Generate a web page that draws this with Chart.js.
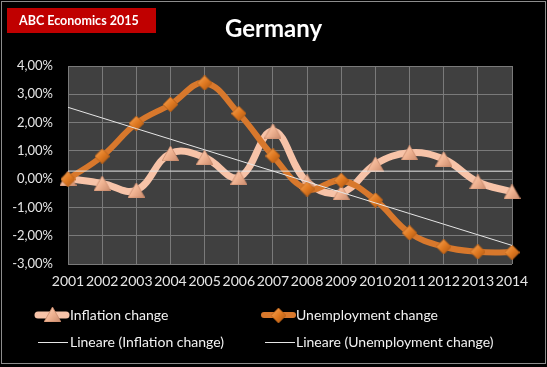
<!DOCTYPE html>
<html>
<head>
<meta charset="utf-8">
<script src="https://cdn.jsdelivr.net/npm/chart.js@4.4.0/dist/chart.umd.min.js"></script>
<style>
  body { margin: 0; background: #000; }
  #wrap { position: relative; width: 547px; height: 367px; background: #000; font-family: Lato, "Open Sans", sans-serif; overflow: hidden; }
  #chart { position: absolute; left: 0; top: 0; }
  #frame { position: absolute; left: 1px; top: 1px; width: 543px; height: 361px; border: 1px solid #8c8c8c; pointer-events: none; }
  #badge { position: absolute; left: 7px; top: 8px; width: 149px; height: 25px; background: #c00000; color: #fff; font-weight: bold; font-size: 12.5px; line-height: 25px; padding-left: 12px; box-sizing: border-box; }
  #title { position: absolute; left: 0; top: 13px; width: 547px; text-align: center; color: #fff; font-weight: bold; font-size: 24px; line-height: 30px; }
  .lg { position: absolute; color: #f2f2f2; font-size: 14px; line-height: 16px; white-space: nowrap; }
</style>
</head>
<body>
<div id="wrap">
  <canvas id="chart" width="547" height="367"></canvas>
  <div id="frame"></div>
  <div id="badge">ABC Economics 2015</div>
  <div id="title">Germany</div>
  <div class="lg" style="left:70px;top:307px">Inflation change</div>
  <div class="lg" style="left:296px;top:307px">Unemployment change</div>
  <div class="lg" style="left:70px;top:334px">Lineare (Inflation change)</div>
  <div class="lg" style="left:296px;top:334px">Lineare (Unemployment change)</div>
</div>
<script>
// values in percent
const years = ['2001', '2002', '2003', '2004', '2005', '2006', '2007', '2008', '2009', '2010', '2011', '2012', '2013', '2014'];
const inflation = [0.02, -0.15, -0.39, 0.91, 0.77, 0.06, 1.70, -0.10, -0.48, 0.53, 0.93, 0.71, -0.10, -0.45];
const unemployment = [0.00, 0.81, 1.97, 2.64, 3.40, 2.32, 0.82, -0.35, -0.05, -0.74, -1.90, -2.39, -2.57, -2.59];
const yTicks = [4, 3, 2, 1, 0, -1, -2, -3];

// least squares trend, like Excel's "Lineare" trendline
function linearFit(values) {
  const n = values.length;
  const mx = (n - 1) / 2;
  const my = values.reduce((a, b) => a + b, 0) / n;
  let sxy = 0, sxx = 0;
  values.forEach((v, i) => { sxy += (i - mx) * (v - my); sxx += (i - mx) * (i - mx); });
  const slope = sxy / sxx;
  return values.map((v, i) => my + slope * (i - mx));
}

function makeDiamond(size) {
  const c = document.createElement('canvas');
  c.width = size; c.height = size;
  const g = c.getContext('2d');
  const h = size / 2;
  const grad = g.createLinearGradient(0, 0, size, size);
  grad.addColorStop(0, '#f8a85a');
  grad.addColorStop(0.5, '#e07a22');
  grad.addColorStop(1, '#a9520f');
  g.beginPath();
  g.moveTo(h, 0); g.lineTo(size, h); g.lineTo(h, size); g.lineTo(0, h); g.closePath();
  g.fillStyle = grad; g.fill();
  g.strokeStyle = '#b35d16'; g.lineWidth = 0.8; g.stroke();
  return c;
}

function makeTriangle(w, hgt) {
  const c = document.createElement('canvas');
  c.width = w; c.height = hgt;
  const g = c.getContext('2d');
  const grad = g.createLinearGradient(0, 0, w, hgt);
  grad.addColorStop(0, '#fcd6c0');
  grad.addColorStop(0.5, '#f0b392');
  grad.addColorStop(1, '#c98a6c');
  g.beginPath();
  g.moveTo(w / 2, 0); g.lineTo(w, hgt); g.lineTo(0, hgt); g.closePath();
  g.fillStyle = grad; g.fill();
  g.strokeStyle = '#c8896b'; g.lineWidth = 0.8; g.stroke();
  return c;
}

const diamond = makeDiamond(15);
const triangle = makeTriangle(17, 15);

const plotBg = {
  id: 'plotBg',
  beforeDraw(chart) {
    const { ctx, chartArea: a } = chart;
    ctx.save();
    ctx.fillStyle = '#404040';
    ctx.fillRect(a.left, a.top, a.right - a.left, a.bottom - a.top);
    ctx.restore();
  }
};

const legendMarks = {
  id: 'legendMarks',
  afterDraw(chart) {
    const ctx = chart.ctx;
    ctx.save();
    ctx.lineCap = 'round';
    ctx.strokeStyle = '#f7c3a8'; ctx.lineWidth = 7;
    ctx.beginPath(); ctx.moveTo(38, 315); ctx.lineTo(66, 315); ctx.stroke();
    ctx.drawImage(triangle, 52 - 8, 315 - 8);
    ctx.strokeStyle = '#d8782c'; ctx.lineWidth = 6;
    ctx.beginPath(); ctx.moveTo(264, 315); ctx.lineTo(293, 315); ctx.stroke();
    ctx.drawImage(diamond, 278 - 7, 315 - 7);
    ctx.lineCap = 'butt';
    ctx.strokeStyle = '#e6e6e6'; ctx.lineWidth = 1;
    ctx.beginPath(); ctx.moveTo(38, 342.5); ctx.lineTo(68, 342.5); ctx.moveTo(265, 342.5); ctx.lineTo(295, 342.5); ctx.stroke();
    ctx.restore();
  }
};

Chart.defaults.font.family = 'Lato, "Open Sans", sans-serif';
Chart.defaults.font.size = 14;
Chart.defaults.color = '#d9d9d9';

new Chart(document.getElementById('chart'), {
  type: 'line',
  data: {
    labels: years,
    datasets: [
      { label: 'Lineare (Inflation change)', data: linearFit(inflation), borderColor: '#e6e6e6', borderWidth: 1, pointRadius: 0, tension: 0, order: 0 },
      { label: 'Lineare (Unemployment change)', data: linearFit(unemployment), borderColor: '#e6e6e6', borderWidth: 1, pointRadius: 0, tension: 0, order: 0 },
      { label: 'Inflation change', data: inflation, borderColor: '#f7c3a8', borderWidth: 7, pointStyle: triangle, pointRadius: 8, tension: 0.4, order: 2 },
      { label: 'Unemployment change', data: unemployment, borderColor: '#d8782c', borderWidth: 6, pointStyle: diamond, pointRadius: 7, tension: 0.4, order: 1 }
    ]
  },
  options: {
    responsive: false,
    animation: false,
    events: [],
    layout: { padding: { top: 66, right: 35, bottom: 63, left: 0 } },
    plugins: { legend: { display: false }, tooltip: { enabled: false } },
    scales: {
      x: {
        offset: false,
        grid: { color: '#7a7a7a', drawTicks: false },
        border: { display: false },
        ticks: { padding: 9, maxRotation: 0, autoSkip: false, color: '#e6e6e6' },
        afterFit(scale) { scale.height = 40; }
      },
      y: {
        min: yTicks[yTicks.length - 1],
        max: yTicks[0],
        grid: { color: '#7a7a7a', drawTicks: false },
        border: { display: false },
        ticks: {
          stepSize: 1,
          padding: 15,
          color: '#e6e6e6',
          font: { size: 13 },
          callback: v => v.toFixed(2).replace('.', ',') + '%'
        },
        afterFit(scale) { scale.width = 68; }
      }
    }
  },
  plugins: [plotBg, legendMarks]
});
</script>
</body>
</html>
